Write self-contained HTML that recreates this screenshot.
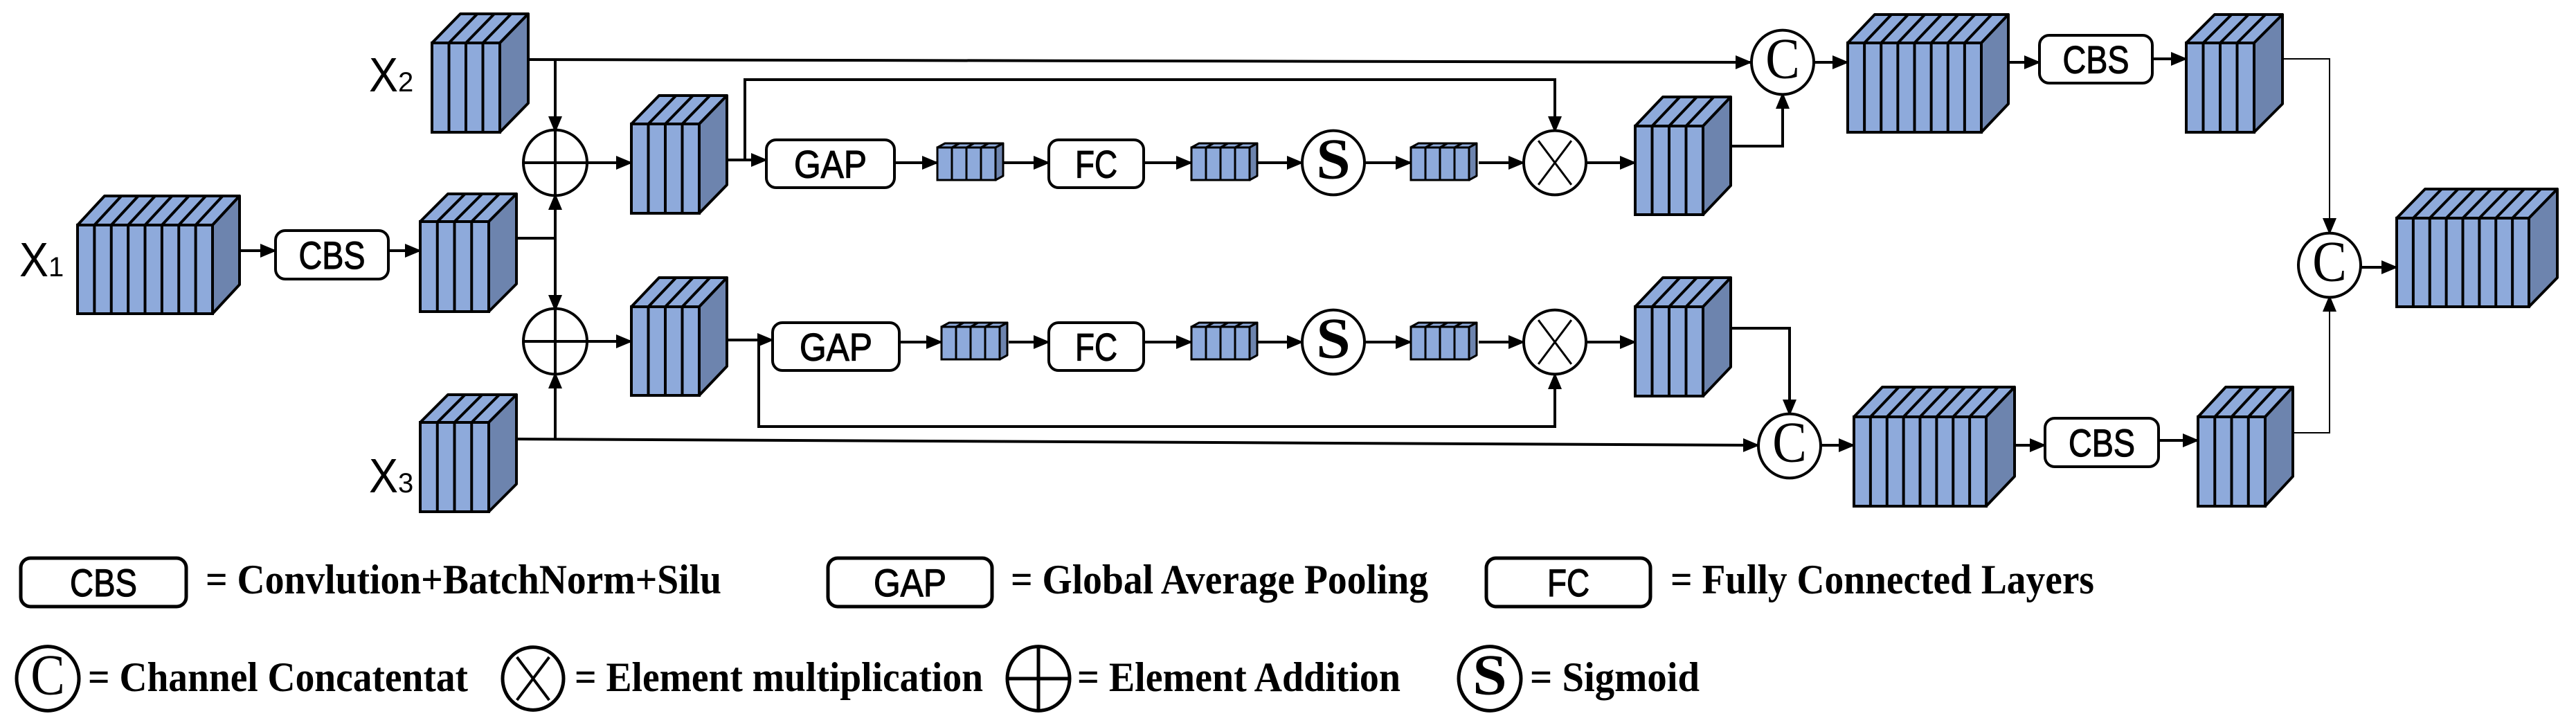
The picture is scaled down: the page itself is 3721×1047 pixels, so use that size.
<!DOCTYPE html>
<html><head><meta charset="utf-8"><style>
html,body{margin:0;padding:0;background:#fff}
svg{display:block}
.t{font-family:"Liberation Sans",sans-serif}
.s{font-family:"Liberation Serif",serif}
</style></head><body>
<svg id="g" xmlns="http://www.w3.org/2000/svg" width="3721" height="1047" viewBox="0 0 3721 1047">
<defs>
<marker id="b" viewBox="0 0 24 20" refX="22" refY="10" markerWidth="24" markerHeight="20" orient="auto" markerUnits="userSpaceOnUse">
<path d="M0,0 L24,10 L0,20 z" fill="#000"/>
</marker>
</defs>
<rect width="3721" height="1047" fill="#fff"/>
</svg>
<script>
var S=document.getElementById('g'),NS='http://www.w3.org/2000/svg';
function el(n,a,t){var e=document.createElementNS(NS,n);for(var k in a)e.setAttribute(k,a[k]);if(t!=null)e.textContent=t;S.appendChild(e);return e;}
function cube(x,y,w,h,n,dx,dy,sw){sw=sw||4;
 el('polygon',{points:[x,y,x+dx,y-dy,x+w+dx,y-dy,x+w,y].join(','),fill:'#8eaadb',stroke:'#000','stroke-width':sw,'stroke-linejoin':'round'});
 el('polygon',{points:[x+w,y,x+w+dx,y-dy,x+w+dx,y+h-dy,x+w,y+h].join(','),fill:'#6d84ae',stroke:'#000','stroke-width':sw,'stroke-linejoin':'round'});
 el('rect',{x:x,y:y,width:w,height:h,fill:'#8eaadb',stroke:'#000','stroke-width':sw});
 for(var i=1;i<n;i++){var xx=x+i*w/n;
  el('line',{x1:xx,y1:y,x2:xx,y2:y+h,stroke:'#000','stroke-width':sw});
  el('line',{x1:xx,y1:y,x2:xx+dx,y2:y-dy,stroke:'#000','stroke-width':sw});}
}
function line(pts,arrow,sw){el('polyline',{points:pts.join(','),fill:'none',stroke:'#000','stroke-width':sw||4,'marker-end':arrow?'url(#b)':''});}
function box(x,y,w,h,txt,tw,sw){el('rect',{x:x,y:y,width:w,height:h,rx:14,ry:14,fill:'#fff',stroke:'#000','stroke-width':sw||4});
 el('text',{x:x+w/2,y:y+h/2+20,'text-anchor':'middle','font-size':56,'class':'t','stroke':'#000','stroke-width':1.2,textLength:tw,lengthAdjust:'spacingAndGlyphs'},txt);}
function circ(cx,cy,r,type,sw){sw=sw||4;el('ellipse',{cx:cx,cy:cy,rx:r,ry:r*1.03,fill:'#fff',stroke:'#000','stroke-width':sw});
 if(type=='+'){el('line',{x1:cx-r,y1:cy,x2:cx+r,y2:cy,stroke:'#000','stroke-width':sw});el('line',{x1:cx,y1:cy-r,x2:cx,y2:cy+r,stroke:'#000','stroke-width':sw});}
 else if(type=='x'){var d=r*0.707;el('line',{x1:cx-d*0.75,y1:cy-d,x2:cx+d*0.75,y2:cy+d,stroke:'#000','stroke-width':sw-1});el('line',{x1:cx+d*0.75,y1:cy-d,x2:cx-d*0.75,y2:cy+d,stroke:'#000','stroke-width':sw-1});}
 else {el('text',{x:cx,y:cy+r*0.5,'text-anchor':'middle','font-size':r*1.85,'class':'s','font-weight':type=='S'?'bold':'normal',textLength:r*1.1,lengthAdjust:'spacingAndGlyphs'},type);}
}
line([337,362,398,362],1);line([561,362,607,362],1);
line([763,86,2529,90],1);
line([802,86,802,190],1);
line([746,344,802,344]);line([802,344,802,281],1);line([802,344,802,448],1);
line([746,634,2540,643],1);line([802,634,802,539],1);
line([848,235,912,235],1);line([848,493,912,493],1);
line([1050,231,1107,231],1);line([1076,231,1076,115,2246,115,2246,190],1);
line([1292,235,1354,235],1);line([1449,235,1515,235],1);line([1652,235,1721,235],1);
line([1817,235,1881,235],1);line([1971,235,2038,235],1);line([2136,235,2201,235],1);line([2292,235,2362,235],1);
line([1050,491,1116,491],1);line([1096,491,1096,616,2246,616,2246,540],1);
line([1299,494,1360,494],1);line([1457,494,1515,494],1);line([1652,494,1721,494],1);
line([1817,494,1881,494],1);line([1971,494,2038,494],1);line([2136,494,2201,494],1);line([2292,494,2362,494],1);
line([2501,211,2575,211,2575,135],1);
line([2620,90,2669,90],1);line([2901,90,2946,90],1);line([3109,85,3158,85],1);
line([3297,85,3365,85,3365,337],1,2);
line([2501,474,2585,474,2585,599],1);
line([2631,643,2678,643],1);line([2910,643,2954,643],1);line([3118,636,3175,636],1);
line([3312,625,3365,625,3365,428],1,2);
line([3410,386,3462,386],1);
cube(112,325,195,128,8,39,42);
cube(624,62,98,129,4,41,42);
cube(607,320,99,130,4,40,40);
cube(607,610,99,129,4,40,40);
cube(912,179,98,129,4,40,41);
cube(912,443,98,128,4,40,42);
[[1354,213],[1721,213],[2038,213],[1360,472],[1721,472],[2038,472]].forEach(function(p){cube(p[0],p[1],84,47,4,11,6,3);});
cube(2362,182,98,128,4,40,42);
cube(2362,443,98,129,4,40,42);
cube(2669,62,193,129,8,39,41);
cube(2678,602,191,129,8,41,43);
cube(3158,62,98,129,4,41,41);
cube(3175,602,97,129,4,40,43);
cube(3462,315,191,128,8,41,42);
box(398,333,163,70,'CBS',96);
box(1107,202,185,69,'GAP',105);box(1515,202,137,69,'FC',61);
box(1116,466,183,69,'GAP',105);box(1515,466,137,69,'FC',61);
box(2946,51,163,69,'CBS',96);box(2954,604,164,70,'CBS',96);
circ(802,235,46,'+');circ(802,493,46,'+');
circ(1926,235,45,'S');circ(1926,494,45,'S');
circ(2246,235,45,'x');circ(2246,494,45,'x');
circ(2575,90,45,'C');circ(2585,644,45,'C');circ(3365,383,45,'C');
function xl(x,y,sub){var t=el('text',{x:x,y:y,'font-size':70,'class':'t'});var a=document.createElementNS(NS,'tspan');a.setAttribute('textLength','42');a.setAttribute('lengthAdjust','spacingAndGlyphs');a.textContent='X';t.appendChild(a);var b=document.createElementNS(NS,'tspan');b.setAttribute('font-size','40');b.textContent=sub;t.appendChild(b);}
xl(28,399,'1');xl(533,132,'2');xl(533,711,'3');
box(30,806,239,70,'CBS',97,5);box(1196,806,237,70,'GAP',105,5);box(2147,806,237,70,'FC',61,5);
function lt(x,y,w,s){el('text',{x:x,y:y,'font-size':60,'font-weight':'bold','class':'s',textLength:w,lengthAdjust:'spacingAndGlyphs'},s);}
lt(297,857,745,'= Convlution+BatchNorm+Silu');
lt(1460,857,603,'= Global Average Pooling');
lt(2413,857,612,'= Fully Connected Layers');
circ(69,980,45,'C',5);lt(127,998,549,'= Channel Concatentat');
circ(770,980,44,'x',5);lt(830,998,590,'= Element multiplication');
circ(1500,980,45,'+',5);lt(1556,998,467,'= Element Addition');
circ(2152,980,45,'S',5);lt(2210,998,245,'= Sigmoid');
</script>
</body></html>
